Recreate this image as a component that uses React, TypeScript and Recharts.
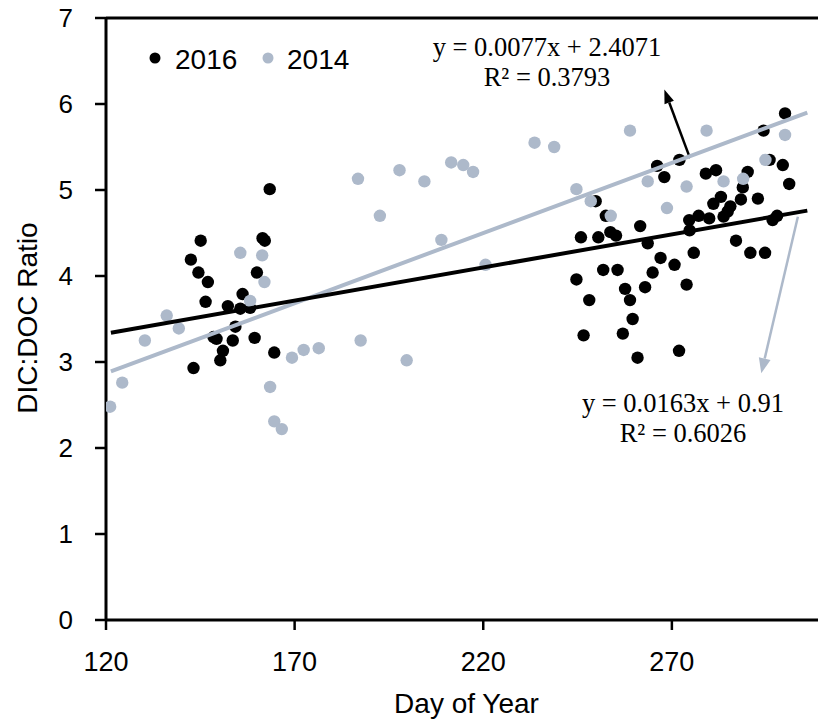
import React from 'react';
import { ScatterChart, Scatter, XAxis, YAxis, ReferenceLine, Label } from 'recharts';

// [day of year, DIC:DOC ratio]
const points2016: [number, number][] = [
  [163.4, 5.01], [145.1, 4.41], [161.5, 4.44], [162.1, 4.41], [142.5, 4.19], [144.5, 4.04],
  [147.0, 3.93], [160.0, 4.04], [146.4, 3.70], [156.2, 3.79], [152.3, 3.65], [155.6, 3.62],
  [158.2, 3.63], [154.3, 3.41], [148.5, 3.29], [149.3, 3.27], [153.6, 3.25], [159.4, 3.28],
  [151.0, 3.13], [150.3, 3.02], [143.2, 2.93], [164.6, 3.11],
  [300.0, 5.89], [294.3, 5.69], [266.1, 5.28], [272.0, 5.35], [268.0, 5.15], [279.0, 5.19],
  [281.7, 5.23], [290.1, 5.21], [295.9, 5.35], [299.4, 5.29], [301.1, 5.07], [288.8, 5.03],
  [249.8, 4.87], [283.0, 4.92], [288.3, 4.89], [292.8, 4.90], [281.0, 4.84], [285.5, 4.81],
  [284.8, 4.75], [283.7, 4.69], [252.5, 4.70], [277.1, 4.70], [279.9, 4.67], [274.6, 4.65],
  [297.9, 4.70], [296.7, 4.65], [261.6, 4.58], [274.7, 4.53], [245.9, 4.45], [250.5, 4.45],
  [253.7, 4.51], [255.2, 4.47], [263.6, 4.38], [287.0, 4.41], [290.8, 4.27], [294.7, 4.27],
  [275.8, 4.27], [267.0, 4.21], [270.7, 4.13], [264.9, 4.04], [251.8, 4.07], [255.6, 4.07],
  [244.7, 3.96], [262.9, 3.87], [257.6, 3.85], [273.9, 3.90], [248.1, 3.72], [258.9, 3.72],
  [259.6, 3.50], [246.6, 3.31], [257.0, 3.33], [260.9, 3.05], [271.9, 3.13],
];

const points2014: [number, number][] = [
  [121.1, 2.48], [124.3, 2.76], [130.3, 3.25], [136.1, 3.54], [139.3, 3.39], [155.6, 4.27],
  [161.4, 4.24], [162.0, 3.93], [158.2, 3.71], [163.5, 2.71], [164.6, 2.31], [166.6, 2.22],
  [169.3, 3.05], [172.4, 3.14], [176.4, 3.16], [187.5, 3.25], [199.7, 3.02], [186.8, 5.13],
  [192.6, 4.70], [197.8, 5.23], [204.4, 5.10], [211.5, 5.32], [214.7, 5.29], [217.3, 5.21],
  [208.9, 4.42], [220.6, 4.13], [233.6, 5.55], [238.8, 5.50], [258.9, 5.69], [279.2, 5.69],
  [300.0, 5.64], [244.7, 5.01], [248.5, 4.87], [263.6, 5.10], [273.9, 5.04], [283.7, 5.10],
  [288.9, 5.13], [294.8, 5.35], [253.8, 4.70], [268.7, 4.79],
];

// trendline end points
const trend2016: [number, number][] = [[121.3, 3.34], [305.9, 4.76]];
const trend2014: [number, number][] = [[121.3, 2.89], [305.9, 5.90]];

// annotation arrows: [start, tip]
const arrow2016: [number, number][] = [[274.8, 5.37], [268.0, 6.17]];
const arrow2014: [number, number][] = [[303.4, 4.69], [293.7, 2.87]];

const xTicks = [120, 170, 220, 270];
const yTicks = [0, 1, 2, 3, 4, 5, 6, 7];

const BLACK = '#000000';
const GRAY = '#ADB9CA';
const SANS = '"Liberation Sans", Arial, sans-serif';
const SERIF = '"Liberation Serif", "Times New Roman", serif';

const toXY = (arr: [number, number][]) => arr.map(([x, y]) => ({ x, y }));

const dot = (color: string) => (props: any) => (
  <circle cx={props.cx} cy={props.cy} r={6.2} fill={color} />
);

const arrowShape = (color: string, headLen: number, headW: number) => (props: any) => {
  const { x1, y1, x2, y2 } = props;
  const dx = x2 - x1;
  const dy = y2 - y1;
  const len = Math.sqrt(dx * dx + dy * dy);
  const ux = dx / len;
  const uy = dy / len;
  const bx = x2 - ux * headLen;
  const by = y2 - uy * headLen;
  const px = -uy * (headW / 2);
  const py = ux * (headW / 2);
  return (
    <g>
      <line x1={x1} y1={y1} x2={bx} y2={by} stroke={color} strokeWidth={2.5} />
      <polygon points={`${x2},${y2} ${bx + px},${by + py} ${bx - px},${by - py}`} fill={color} />
    </g>
  );
};

// legend: series name, colour, marker x, text x
const legendItems = [
  { name: '2016', color: BLACK, dotX: 155, textX: 175 },
  { name: '2014', color: GRAY, dotX: 268, textX: 287 },
];

export default function App() {
  return (
    <div style={{ position: 'absolute', left: 0, top: 0, width: 818, height: 725, overflow: 'hidden', background: '#fff' }}>
      <ScatterChart width={820} height={725} margin={{ top: 18, right: 1, bottom: 0, left: 0 }}>
        <XAxis
          type="number"
          dataKey="x"
          domain={[120, 309]}
          ticks={xTicks}
          allowDataOverflow
          height={105}
          stroke={BLACK}
          axisLine={{ stroke: BLACK, strokeWidth: 3 }}
          tickLine={{ stroke: BLACK, strokeWidth: 2.5 }}
          tickSize={10}
          tickMargin={22}
          tick={{ fill: BLACK, fontSize: 27, fontFamily: SANS }}
        >
          <Label
            content={(p: any) => (
              <text
                x={p.viewBox.x + p.viewBox.width / 2 + 4}
                y={713}
                textAnchor="middle"
                fontFamily={SANS}
                fontSize={28}
                fill={BLACK}
              >
                Day of Year
              </text>
            )}
          />
        </XAxis>
        <YAxis
          type="number"
          dataKey="y"
          domain={[0, 7]}
          ticks={yTicks}
          width={106}
          stroke={BLACK}
          axisLine={{ stroke: BLACK, strokeWidth: 3 }}
          tickLine={{ stroke: BLACK, strokeWidth: 2.5 }}
          tickSize={11}
          tickMargin={22}
          tick={{ fill: BLACK, fontSize: 26, fontFamily: SANS }}
        >
          <Label
            content={() => (
              <text
                x={37}
                y={318}
                transform="rotate(-90 37 318)"
                textAnchor="middle"
                fontFamily={SANS}
                fontSize={28}
                fill={BLACK}
              >
                DIC:DOC Ratio
              </text>
            )}
          />
        </YAxis>
        <ReferenceLine y={7} stroke={BLACK} strokeWidth={3} />
        <Scatter name="2016" data={toXY(points2016)} shape={dot(BLACK)} isAnimationActive={false} />
        <Scatter name="2014" data={toXY(points2014)} shape={dot(GRAY)} isAnimationActive={false} />
        <Scatter
          data={toXY(trend2014)}
          line={{ stroke: GRAY, strokeWidth: 4 }}
          shape={() => <g />}
          legendType="none"
          isAnimationActive={false}
        />
        <Scatter
          data={toXY(trend2016)}
          line={{ stroke: BLACK, strokeWidth: 4 }}
          shape={() => <g />}
          legendType="none"
          isAnimationActive={false}
        />
        <ReferenceLine segment={toXY(arrow2016)} shape={arrowShape(BLACK, 14, 10)} />
        <ReferenceLine segment={toXY(arrow2014)} shape={arrowShape(GRAY, 15, 12)} />
        {legendItems.map((item) => (
          <g key={item.name}>
            <circle cx={item.dotX} cy={58} r={5.5} fill={item.color} />
            <text x={item.textX} y={69} fontFamily={SANS} fontSize={28} fill={BLACK}>
              {item.name}
            </text>
          </g>
        ))}
        <text x={547} y={56} textAnchor="middle" fontFamily={SERIF} fontSize={26.5} fill={BLACK}>
          y = 0.0077x + 2.4071
        </text>
        <text x={547} y={86} textAnchor="middle" fontFamily={SERIF} fontSize={26.5} fill={BLACK}>
          R² = 0.3793
        </text>
        <text x={683} y={412} textAnchor="middle" fontFamily={SERIF} fontSize={26.5} fill={BLACK}>
          y = 0.0163x + 0.91
        </text>
        <text x={683} y={442} textAnchor="middle" fontFamily={SERIF} fontSize={26.5} fill={BLACK}>
          R² = 0.6026
        </text>
      </ScatterChart>
    </div>
  );
}
